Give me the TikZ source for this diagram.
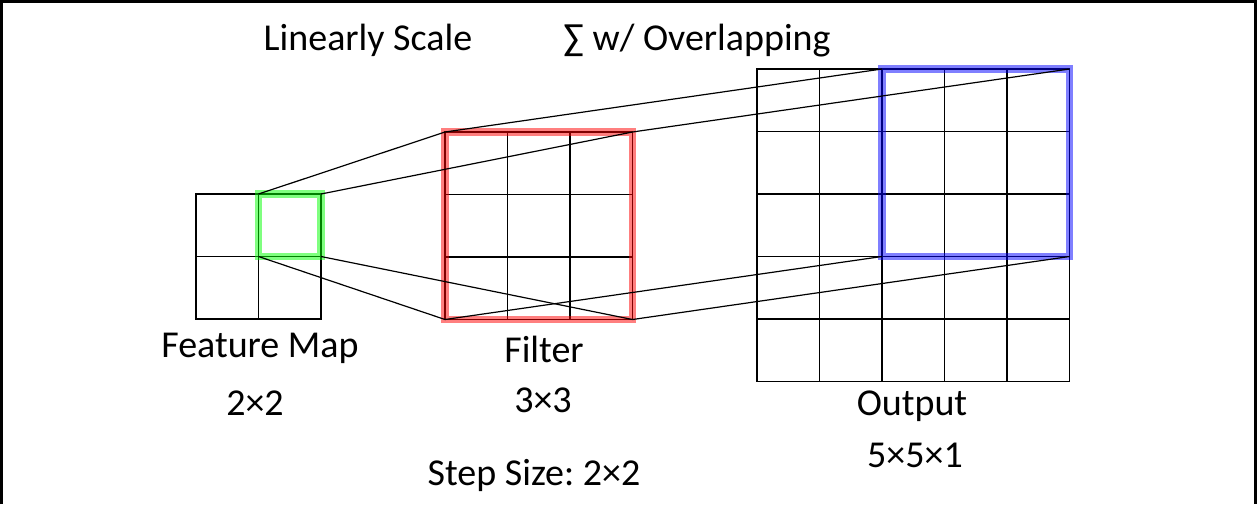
\documentclass[tikz,border=0pt]{standalone}
\usepackage{fontspec}
\setmainfont{Carlito}
\frenchspacing
\begin{document}
\begin{tikzpicture}[x=1pt,y=-1pt,
  gridline/.style={line width=1.5pt, black},
  box/.style={draw, line width=1.5pt, inner sep=0, outer sep=0, anchor=north west},
  hl/.style={draw=#1, draw opacity=0.5, line width=7.5pt, inner sep=0, outer sep=0, anchor=north west},
  conn/.style={line width=1.2pt, black},
  lbl/.style={font=\fontsize{38}{44}\selectfont\frenchspacing, anchor=base, inner sep=0}]
\useasboundingbox (0,0) rectangle (1257,504);
\draw[line width=3pt] (1.5,504) -- (1.5,1.5) -- (1255.5,1.5) -- (1255.5,504);

% feature map
\node[box, minimum width=125pt, minimum height=125pt] (fm) at (196,194) {};
\draw[gridline] (258.5,194) -- (258.5,319) (196,256.5) -- (321,256.5);
% filter
\node[box, minimum width=187.5pt, minimum height=187.5pt] (flt) at (445,132) {};
\foreach \x in {507.5,570} \draw[gridline] (\x,132) -- (\x,319.5);
\foreach \y in {194.5,257} \draw[gridline] (445,\y) -- (632.5,\y);
% output
\node[box, minimum width=312.5pt, minimum height=312.5pt] (out) at (757,69) {};
\foreach \x in {819.5,882,944.5,1007} \draw[gridline] (\x,69) -- (\x,381.5);
\foreach \y in {131.5,194,256.5,319} \draw[gridline] (757,\y) -- (1069.5,\y);

% highlight frames
\node[hl=green, minimum width=62.5pt, minimum height=62.5pt] (g) at (258.5,194) {};
\node[hl=red, minimum width=187.5pt, minimum height=187.5pt] (r) at (445,132) {};
\node[hl=blue, minimum width=187.5pt, minimum height=187.5pt] (b) at (882,69) {};

% connectors
\draw[conn] (g.north west) -- (r.north west);
\draw[conn] (g.north east) -- (r.north east);
\draw[conn] (g.south west) -- (r.south west);
\draw[conn] (g.south east) -- (r.south east);
\draw[conn] (r.north west) -- (b.north west);
\draw[conn] (r.north east) -- (b.north east);
\draw[conn] (r.south west) -- (b.south west);
\draw[conn] (r.south east) -- (b.south east);

% labels
\node[lbl] (t1) at (368,50) {Linearly Scale};
\node[lbl] (t2) at (697,50) {∑ w/ Overlapping};
\node[lbl] (l1) at (260,357) {Feature Map};
\node[lbl] (l2) at (255,415) {2×2};
\node[lbl] (l3) at (544,362) {Filter};
\node[lbl] (l4) at (543,412) {3×3};
\node[lbl] (l5) at (912,415) {Output};
\node[lbl] (l6) at (915,467) {5×5×1};
\node[lbl] (l7) at (534,485) {Step Size: 2×2};
\end{tikzpicture}
\end{document}
